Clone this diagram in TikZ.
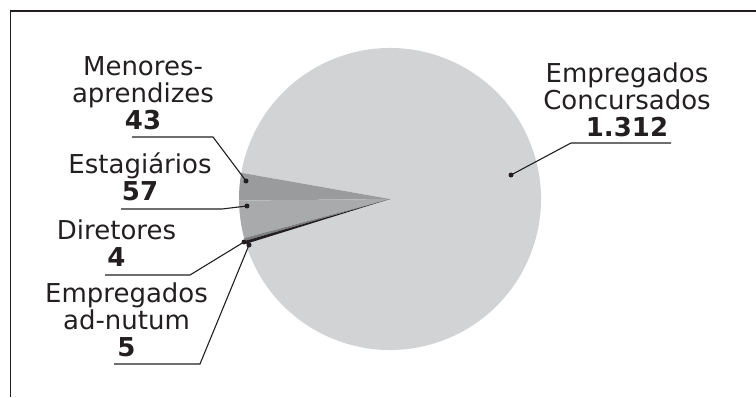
\documentclass[tikz,border=0pt]{standalone}
\usepackage{fontspec}
\setmainfont{DejaVu Sans}
\definecolor{conc}{HTML}{D2D3D5}
\definecolor{menor}{HTML}{9A9B9D}
\definecolor{estag}{HTML}{A9AAAC}
\definecolor{dire}{HTML}{7E7F81}
\definecolor{adnut}{HTML}{231F20}
\definecolor{ink}{HTML}{231F20}
\tikzset{
  lbl/.style={align=center, anchor=south, inner sep=0pt, text=ink,
    font=\fontsize{26}{27}\selectfont},
  leader/.style={draw=ink, line width=1.1pt},
  dotm/.style={fill=ink, circle, inner sep=0pt, minimum size=5pt},
  frame/.style={draw=ink, line width=1.3pt}
}
\begin{document}
\begin{tikzpicture}[x=1pt,y=1pt]
\useasboundingbox (0,0) rectangle (756,397);
% frame (top and left)
\coordinate (fA) at (10.5,0);
\coordinate (fB) at (10.5,386);
\coordinate (fC) at (756,386);
\draw[frame] (fA) -- (fB) -- (fC);
% pie
\coordinate (c) at (390,198);
\def\R{151}
\fill[conc] (c) -- ++(197.3:\R) arc[start angle=197.3, end angle=530, radius=\R] -- cycle;
\fill[menor] (c) -- ++(170:\R) arc[start angle=170, end angle=180.6, radius=\R] -- cycle;
\fill[estag] (c) -- ++(180.6:\R) arc[start angle=180.6, end angle=195, radius=\R] -- cycle;
\fill[dire] (c) -- ++(195:\R) arc[start angle=195, end angle=196.1, radius=\R] -- cycle;
\fill[adnut] (c) -- ++(196.1:\R) arc[start angle=196.1, end angle=197.3, radius=\R] -- cycle;
% labels
\node[lbl] (tMen) at (143,267) {Menores-\\aprendizes\\\textbf{43}};
\node[lbl] (tEst) at (140,196) {Estagiários\\\textbf{57}};
\node[lbl] (tDir) at (116.5,130) {Diretores\\\textbf{4}};
\node[lbl] (tAdn) at (126.5,40) {Empregados\\ad-nutum\\\textbf{5}};
\node[lbl] (tCon) at (627,260) {Empregados\\Concursados\\\textbf{1.312}};
% dots
\node[dotm] (dMen) at (246,216) {};
\node[dotm] (dEst) at (247,191) {};
\node[dotm] (dDir) at (244,155) {};
\node[dotm] (dAdn) at (249,152) {};
\node[dotm] (dCon) at (511,222) {};
% leader lines
\coordinate (mA) at (132,260); \coordinate (mB) at (213,260);
\coordinate (eA) at (121,188); \coordinate (eB) at (222,188);
\coordinate (rA) at (105,122); \coordinate (rB) at (190,122);
\coordinate (aA) at (114,33);  \coordinate (aB) at (200,33);
\coordinate (kA) at (671,254); \coordinate (kB) at (571,254);
\draw[leader] (mA) -- (mB) -- (dMen.center);
\draw[leader] (eA) -- (eB) -- (dEst.center);
\draw[leader] (rA) -- (rB) -- (dDir.center);
\draw[leader] (aA) -- (aB) -- (dAdn.center);
\draw[leader] (kA) -- (kB) -- (dCon.center);
\end{tikzpicture}
\end{document}
